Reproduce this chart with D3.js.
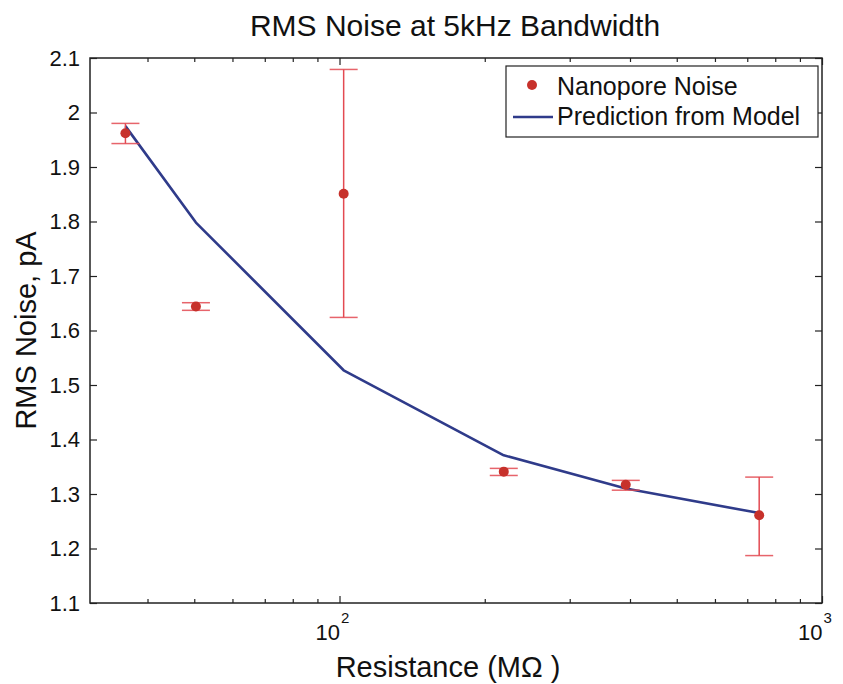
<!DOCTYPE html>
<html>
<head>
<meta charset="utf-8">
<script src="https://cdn.jsdelivr.net/npm/d3@7"></script>
<style>
  html, body { margin: 0; padding: 0; background: #fff; }
  svg { display: block; font-family: "Liberation Sans", Arial, Helvetica, sans-serif; }
</style>
</head>
<body>
<svg id="chart"></svg>
<script>
// RMS noise vs resistance, log x axis, measured points with error bars + model line

const resistance = [36, 50.4, 102, 219, 392, 741];          // MOhm
const noise      = [1.962, 1.644, 1.851, 1.341, 1.317, 1.261]; // pA
const errLow     = [1.943, 1.637, 1.624, 1.334, 1.307, 1.187];
const errHigh    = [1.980, 1.651, 2.079, 1.347, 1.325, 1.331];
const model      = [1.975, 1.798, 1.527, 1.371, 1.310, 1.265];

const yTicks = [1.1, 1.2, 1.3, 1.4, 1.5, 1.6, 1.7, 1.8, 1.9, 2, 2.1];
const xMajor = [100, 1000];
const xMinor = [40, 50, 60, 70, 80, 90, 200, 300, 400, 500, 600, 700, 800, 900];
const xLimits = [30.4, 1000];
const yLimits = [1.1, 2.1];

const W = 843, H = 684;
const M = { top: 58, right: 21, bottom: 81, left: 90 };
const iw = W - M.left - M.right;
const ih = H - M.top - M.bottom;

const RED_DOT = "#c7312b";
const RED_BAR = "#e34a52";
const BLUE = "#2f3b8a";
const AXIS = "#222";

const svg = d3.select("#chart").attr("width", W).attr("height", H);
const g = svg.append("g").attr("transform", `translate(${M.left},${M.top})`);

const x = d3.scaleLog().domain(xLimits).range([0, iw]);
const y = d3.scaleLinear().domain(yLimits).range([ih, 0]);

// ---- axes: ticks pointing inward on all four sides ----
function styleAxis(sel) {
  sel.select(".domain").remove();
  sel.selectAll(".tick line").attr("stroke", AXIS).attr("stroke-width", 1.2);
  sel.selectAll(".tick text").remove();
}

g.append("g").attr("transform", `translate(0,${ih})`)
  .call(d3.axisBottom(x).tickValues(xMinor).tickSize(-4)).call(styleAxis);
g.append("g").attr("transform", `translate(0,${ih})`)
  .call(d3.axisBottom(x).tickValues(xMajor).tickSize(-7)).call(styleAxis);
g.append("g")
  .call(d3.axisTop(x).tickValues(xMinor).tickSize(-4)).call(styleAxis);
g.append("g")
  .call(d3.axisTop(x).tickValues(xMajor).tickSize(-7)).call(styleAxis);
g.append("g")
  .call(d3.axisLeft(y).tickValues(yTicks).tickSize(-7)).call(styleAxis);
g.append("g").attr("transform", `translate(${iw},0)`)
  .call(d3.axisRight(y).tickValues(yTicks).tickSize(-7)).call(styleAxis);

// y tick labels
g.append("g").selectAll("text").data(yTicks).enter().append("text")
  .attr("x", -10).attr("y", d => y(d)).attr("dy", "0.36em")
  .attr("text-anchor", "end").attr("font-size", 22).attr("fill", "#111")
  .text(d => d3.format("")(d));

// x tick labels: 10^n
const xl = g.append("g").selectAll("text").data(xMajor).enter().append("text")
  .attr("x", d => x(d) - 7).attr("y", ih + 37)
  .attr("text-anchor", "middle").attr("font-size", 22).attr("fill", "#111");
xl.append("tspan").text("10");
xl.append("tspan").attr("font-size", 15).attr("dy", -17).attr("dx", 1)
  .text(d => String(Math.round(Math.log10(d))));

// frame
g.append("rect").attr("width", iw).attr("height", ih)
  .attr("fill", "none").attr("stroke", AXIS).attr("stroke-width", 1.5);

// ---- model line ----
const line = d3.line().x((d, i) => x(resistance[i])).y(d => y(d));
g.append("path").datum(model)
  .attr("d", line).attr("fill", "none")
  .attr("stroke", BLUE).attr("stroke-width", 2.6).attr("stroke-linejoin", "round");

// ---- error bars ----
const cap = 14;
resistance.forEach((r, i) => {
  const cx = x(r);
  g.append("line").attr("x1", cx).attr("x2", cx)
    .attr("y1", y(errLow[i])).attr("y2", y(errHigh[i]))
    .attr("stroke", RED_BAR).attr("stroke-width", 1.5);
  [errLow[i], errHigh[i]].forEach(v => {
    g.append("line").attr("x1", cx - cap).attr("x2", cx + cap)
      .attr("y1", y(v)).attr("y2", y(v))
      .attr("stroke", RED_BAR).attr("stroke-width", 1.5).attr("opacity", 0.85);
  });
});

// ---- points ----
g.append("g").selectAll("circle").data(noise).enter().append("circle")
  .attr("cx", (d, i) => x(resistance[i])).attr("cy", d => y(d))
  .attr("r", 5).attr("fill", RED_DOT);

// ---- legend ----
const lg = g.append("g").attr("transform", `translate(${506 - M.left},${66 - M.top})`);
lg.append("rect").attr("width", 312).attr("height", 71)
  .attr("fill", "#fff").attr("stroke", AXIS).attr("stroke-width", 1.2);
lg.append("circle").attr("cx", 26).attr("cy", 19).attr("r", 5).attr("fill", RED_DOT);
lg.append("text").attr("x", 51).attr("y", 29).attr("font-size", 25).attr("fill", "#111")
  .text("Nanopore Noise");
lg.append("line").attr("x1", 7).attr("x2", 47).attr("y1", 51).attr("y2", 51)
  .attr("stroke", BLUE).attr("stroke-width", 2.6);
lg.append("text").attr("x", 51).attr("y", 59).attr("font-size", 25).attr("fill", "#111")
  .text("Prediction from Model");

// ---- titles ----
svg.append("text").attr("x", 455).attr("y", 36)
  .attr("text-anchor", "middle").attr("font-size", 30).attr("fill", "#111")
  .text("RMS Noise at 5kHz Bandwidth");

svg.append("text").attr("x", 448).attr("y", 677)
  .attr("text-anchor", "middle").attr("font-size", 29).attr("fill", "#111")
  .text("Resistance (MΩ )");

svg.append("text")
  .attr("transform", `translate(36,${M.top + ih / 2}) rotate(-90)`)
  .attr("text-anchor", "middle").attr("font-size", 29).attr("fill", "#111")
  .text("RMS Noise, pA");
</script>
</body>
</html>
